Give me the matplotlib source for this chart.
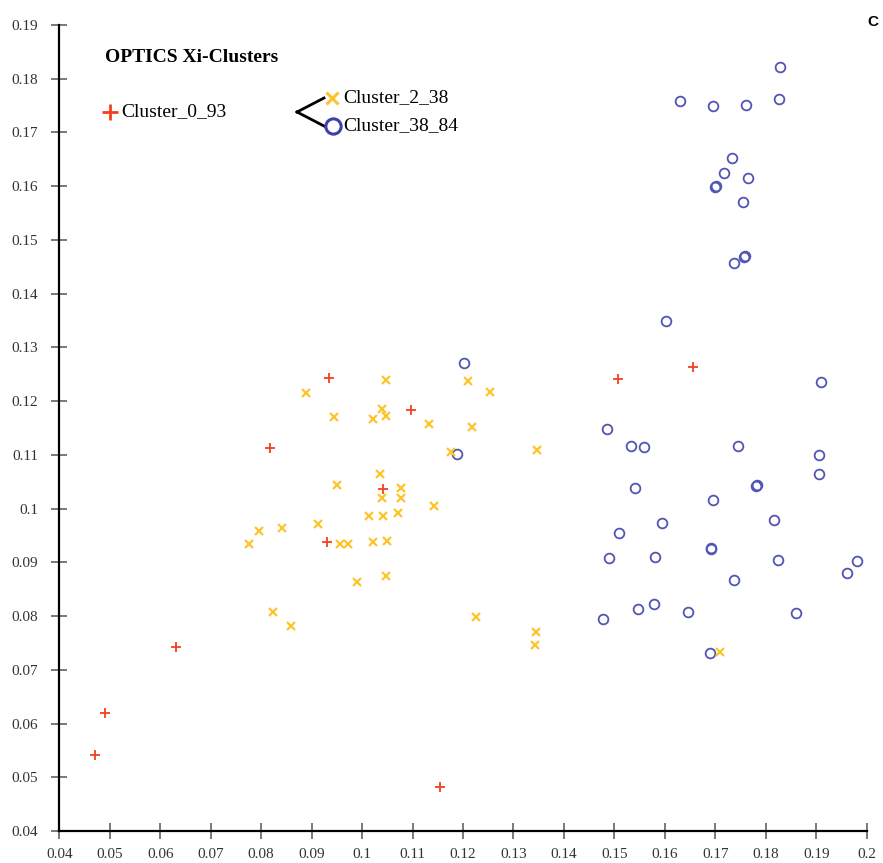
import matplotlib
matplotlib.use("Agg")
import matplotlib.pyplot as plt
from matplotlib.lines import Line2D

# ---------------- data ----------------
c0_x = [0.0934, 0.1096, 0.0818, 0.1041, 0.0931, 0.1508, 0.1656, 0.0471, 0.0491, 0.0632, 0.1154]
c0_y = [0.1243, 0.1183, 0.1113, 0.1037, 0.0938, 0.1242, 0.1264, 0.0541, 0.0619, 0.0742, 0.0482]

c2_x = [0.1047, 0.0888, 0.1210, 0.1254, 0.0945, 0.1039, 0.1047, 0.1022, 0.1133, 0.1218,
        0.1176, 0.1347, 0.1036, 0.0950, 0.1078, 0.1039, 0.1078, 0.1143, 0.1013, 0.1042,
        0.1071, 0.0913, 0.0796, 0.0841, 0.0775, 0.0956, 0.0973, 0.1022, 0.1050, 0.0989,
        0.1047, 0.0824, 0.0860, 0.1226, 0.1345, 0.1343, 0.1709]
c2_y = [0.1240, 0.1215, 0.1238, 0.1217, 0.1171, 0.1186, 0.1173, 0.1166, 0.1158, 0.1152,
        0.1106, 0.1109, 0.1064, 0.1044, 0.1039, 0.1019, 0.1020, 0.1004, 0.0987, 0.0987,
        0.0992, 0.0971, 0.0959, 0.0963, 0.0935, 0.0935, 0.0935, 0.0938, 0.0940, 0.0864,
        0.0875, 0.0808, 0.0782, 0.0798, 0.0770, 0.0746, 0.0733]

c38_x = [0.1603, 0.1201, 0.1910, 0.1485, 0.1532, 0.1559, 0.1744, 0.1906, 0.1906, 0.1189,
         0.1540, 0.1781, 0.1782, 0.1696, 0.1817, 0.1594, 0.1509, 0.1489, 0.1581, 0.1691,
         0.1692, 0.1824, 0.1981, 0.1960, 0.1737, 0.1477, 0.1546, 0.1578, 0.1645, 0.1859,
         0.1690, 0.1829, 0.1631, 0.1696, 0.1761, 0.1826, 0.1734, 0.1718, 0.1765, 0.1700,
         0.1701, 0.1754, 0.1757, 0.1758, 0.1737]
c38_y = [0.1350, 0.1271, 0.1235, 0.1149, 0.1117, 0.1115, 0.1116, 0.1099, 0.1064, 0.1102,
         0.1038, 0.1042, 0.1043, 0.1016, 0.0979, 0.0973, 0.0955, 0.0908, 0.0909, 0.0925,
         0.0926, 0.0904, 0.0902, 0.0881, 0.0867, 0.0795, 0.0814, 0.0822, 0.0807, 0.0806,
         0.0732, 0.1822, 0.1758, 0.1749, 0.1752, 0.1763, 0.1652, 0.1624, 0.1615, 0.1599,
         0.1600, 0.1571, 0.1469, 0.1470, 0.1458]

x_ticks = [0.04, 0.05, 0.06, 0.07, 0.08, 0.09, 0.1, 0.11, 0.12, 0.13, 0.14, 0.15, 0.16, 0.17, 0.18, 0.19, 0.2]
y_ticks = [0.04, 0.05, 0.06, 0.07, 0.08, 0.09, 0.1, 0.11, 0.12, 0.13, 0.14, 0.15, 0.16, 0.17, 0.18, 0.19]
x_labels = ["0.04", "0.05", "0.06", "0.07", "0.08", "0.09", "0.1", "0.11", "0.12", "0.13",
            "0.14", "0.15", "0.16", "0.17", "0.18", "0.19", "0.2"]
y_labels = ["0.04", "0.05", "0.06", "0.07", "0.08", "0.09", "0.1", "0.11", "0.12", "0.13",
            "0.14", "0.15", "0.16", "0.17", "0.18", "0.19"]

names = ["Cluster_0_93", "Cluster_2_38", "Cluster_38_84"]
RED = "#F2411E"
YEL = "#FCC52C"
BLUE = "#5255B3"

# ---------------- figure ----------------
W, H = 883, 863
fig = plt.figure(figsize=(W / 100, H / 100), dpi=100)
ax = fig.add_axes([59.3 / W, (H - 831) / H, (866.7 - 59.3) / W, (831 - 25) / H])
ax.set_xlim(0.04, 0.2)
ax.set_ylim(0.04, 0.19)
ax.patch.set_alpha(0)

ax.plot(c38_x, c38_y, linestyle="none", marker="o", markersize=7.0, markerfacecolor="none",
        markeredgecolor=BLUE, markeredgewidth=1.3, zorder=3)
ax.plot(c2_x, c2_y, linestyle="none", marker="x", markersize=5.5, color=YEL,
        markeredgewidth=1.6, zorder=3)
ax.plot(c0_x, c0_y, linestyle="none", marker="+", markersize=7, color=RED,
        markeredgewidth=1.3, zorder=4)

for s in ["top", "right"]:
    ax.spines[s].set_visible(False)
for s in ["left", "bottom"]:
    ax.spines[s].set_linewidth(1.6)
    ax.spines[s].set_color("black")

serif = ["Liberation Serif", "DejaVu Serif"]
ax.set_xticks(x_ticks)
ax.set_xticklabels(x_labels, fontfamily=serif, fontsize=11, color="#333333")
ax.set_yticks(y_ticks)
ax.set_yticklabels(y_labels, fontfamily=serif, fontsize=11, color="#333333")
ax.tick_params(axis="both", direction="inout", length=12, width=1.1, color="#555555")
ax.tick_params(axis="x", pad=6)
ax.tick_params(axis="y", pad=9)

# ---------------- annotations / legend ----------------
def fx(px):
    return px / W

def fy(py):
    return 1 - py / H

fig.text(fx(105), fy(57), "OPTICS Xi-Clusters", fontfamily=serif, fontweight="bold",
         fontsize=14, va="center", ha="left")
fig.text(fx(878), fy(22), "C", fontfamily="Liberation Sans", fontweight="bold",
         fontsize=11, va="center", ha="right")

fig.add_artist(Line2D([fx(110)], [fy(112)], marker="+", markersize=11, color=RED,
                      markeredgewidth=2, transform=fig.transFigure))
fig.text(fx(121), fy(112), names[0], fontfamily=serif, fontsize=14, va="center", ha="left")

fig.add_artist(Line2D([fx(297), fx(324)], [fy(112), fy(98)], color="black", lw=2,
                      transform=fig.transFigure))
fig.add_artist(Line2D([fx(297), fx(324)], [fy(112), fy(126)], color="black", lw=2,
                      transform=fig.transFigure))
fig.add_artist(Line2D([fx(332)], [fy(98)], marker="x", markersize=8.5, color=YEL,
                      markeredgewidth=2.2, transform=fig.transFigure))
fig.text(fx(343), fy(98), names[1], fontfamily=serif, fontsize=14, va="center", ha="left")
fig.add_artist(Line2D([fx(333)], [fy(126)], marker="o", markersize=11, markerfacecolor="none",
                      markeredgecolor="#3D40AA", markeredgewidth=2.2, transform=fig.transFigure))
fig.text(fx(343), fy(126), names[2], fontfamily=serif, fontsize=14, va="center", ha="left")

fig.savefig("out.png", dpi=100)
